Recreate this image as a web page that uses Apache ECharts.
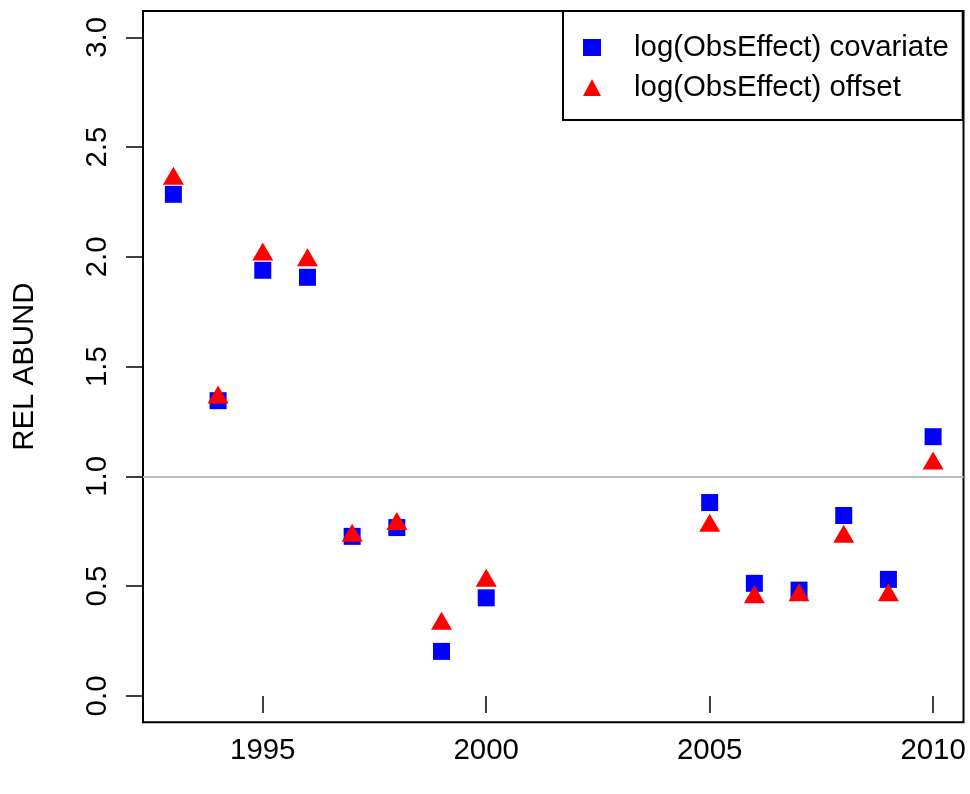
<!DOCTYPE html>
<html>
<head>
<meta charset="utf-8">
<script src="https://cdn.jsdelivr.net/npm/echarts@6/dist/echarts.min.js"></script>
<style>
  html, body { margin: 0; padding: 0; background: #fff; }
  #chart { width: 970px; height: 794px; }
</style>
</head>
<body>
<div id="chart"></div>
<script>
// values
const years = [1993, 1994, 1995, 1996, 1997, 1998, 1999, 2000, 2005, 2006, 2007, 2008, 2009, 2010]
const covariate = [2.285, 1.345, 1.939, 1.907, 0.727, 0.767, 0.203, 0.447, 0.881, 0.513, 0.482, 0.822, 0.531, 1.181]
const offset = [2.356, 1.359, 2.011, 1.985, 0.730, 0.783, 0.329, 0.525, 0.775, 0.450, 0.459, 0.725, 0.459, 1.059]
const xTicks = [1995, 2000, 2005, 2010]
const yTicks = [0, 0.5, 1, 1.5, 2, 2.5, 3]
const seriesNames = ['log(ObsEffect) covariate', 'log(ObsEffect) offset']

const FONT = '"Liberation Sans", Arial, Helvetica, sans-serif'
const FS = 29.4

const pairs = (ys) => years.map((yr, i) => [yr, ys[i]])

const chart = echarts.init(document.getElementById('chart'), null, { renderer: 'canvas' })

chart.setOption({
  animation: false,
  backgroundColor: '#fff',
  textStyle: { fontFamily: FONT },
  grid: {
    left: 143, right: 6.5, top: 11, bottom: 71.7,
    show: true, borderColor: '#000', borderWidth: 2, backgroundColor: 'transparent'
  },
  legend: {
    orient: 'vertical',
    left: 563,
    top: 11,
    padding: [20, 14, 16, 20],
    itemWidth: 18,
    itemHeight: 17,
    itemGap: 7,
    borderColor: '#000',
    borderWidth: 2,
    backgroundColor: '#fff',
    textStyle: { fontFamily: FONT, fontSize: FS, color: '#000', lineHeight: 33, padding: [0, 0, 0, 28] },
    data: [
      { name: seriesNames[0], icon: 'rect' },
      { name: seriesNames[1], icon: 'triangle' }
    ]
  },
  xAxis: {
    type: 'value',
    min: 1992.32,
    max: 2010.68,
    axisLine: { show: false },
    splitLine: { show: false },
    axisTick: {
      show: true, length: 17, customValues: xTicks,
      lineStyle: { color: '#000', width: 1.5 }
    },
    axisLabel: {
      customValues: xTicks, margin: 14,
      fontFamily: FONT, fontSize: FS, color: '#000',
      formatter: (v) => String(v)
    }
  },
  yAxis: {
    type: 'value',
    min: -0.12,
    max: 3.12,
    name: 'REL ABUND',
    nameLocation: 'middle',
    nameRotate: 90,
    nameGap: 104,
    nameTextStyle: { fontFamily: FONT, fontSize: FS, color: '#000' },
    axisLine: { show: false },
    splitLine: { show: false },
    axisTick: {
      show: true, length: 17, customValues: yTicks,
      lineStyle: { color: '#000', width: 1.5 }
    },
    axisLabel: {
      customValues: yTicks, rotate: 90, margin: 31,
      fontFamily: FONT, fontSize: FS, color: '#000',
      formatter: (v) => v.toFixed(1)
    }
  },
  series: [
    {
      name: seriesNames[0],
      type: 'scatter',
      symbol: 'rect',
      symbolSize: 17,
      itemStyle: { color: '#0000ff', opacity: 1 },
      data: pairs(covariate),
      z: 3,
      markLine: {
        silent: true,
        symbol: 'none',
        label: { show: false },
        lineStyle: { color: '#bebebe', width: 2, type: 'solid' },
        data: [{ yAxis: 1 }],
        z: 1
      }
    },
    {
      name: seriesNames[1],
      type: 'scatter',
      symbol: 'triangle',
      symbolSize: [21, 18],
      symbolOffset: [0, -3],
      itemStyle: { color: '#ff0000', opacity: 1 },
      data: pairs(offset),
      z: 4
    }
  ]
})
</script>
</body>
</html>
